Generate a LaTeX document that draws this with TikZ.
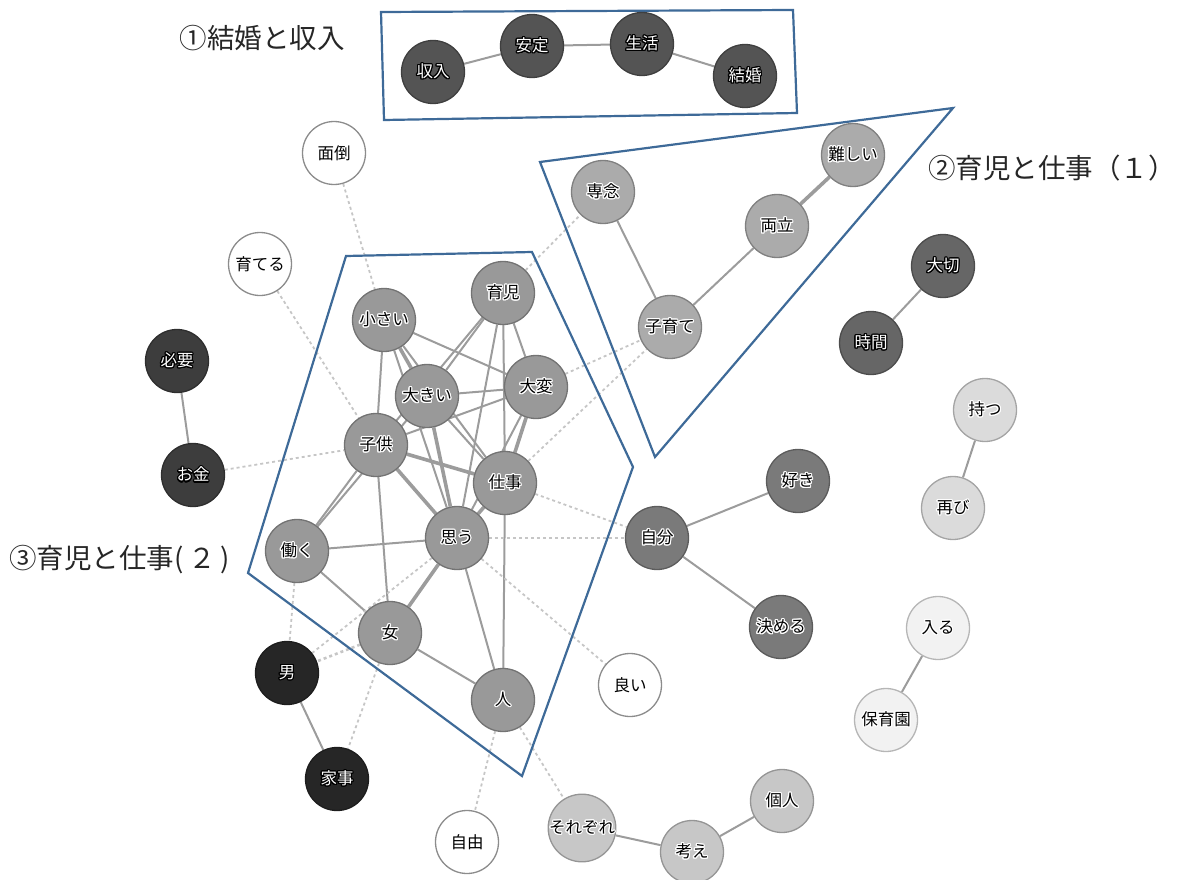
\documentclass[tikz,border=0pt]{standalone}
\usepackage{fontspec}
\usepackage{contour}
\newfontfamily\jp{Noto Sans CJK JP}
\contourlength{1.1pt}
\newcommand{\hl}[1]{\contour{white}{#1}}
\newcommand{\hd}[1]{\textcolor{white}{\contour{black}{#1}}}
\definecolor{frameblue}{HTML}{3E6A98}
\pgfdeclarelayer{bg}
\pgfsetlayers{bg,main}
\begin{document}
\begin{tikzpicture}[x=1pt, y=-1pt,
  nd/.style={circle, draw=#1!75!black, fill=#1, minimum size=63pt, inner sep=0pt, line width=1.3pt, font=\jp\fontsize{16.5}{16.5}\selectfont},
  nd/.default=white,
  wt/.style={nd, draw=black!45},
  ed/.style={draw=gray!78, line width=2pt},
  edb/.style={draw=gray!78, line width=3.6pt},
  dl/.style={draw=gray!45, line width=1.8pt, dash pattern=on 3pt off 3pt},
  frame/.style={draw=frameblue, line width=2.2pt, line join=miter},
  ttl/.style={font=\jp\fontsize{27.5}{27.5}\selectfont, text=black!85}]
\useasboundingbox (0,0) rectangle (1177,880);

% 1. グループ枠とタイトル
\draw[frame] (381,12) -- (793,10) -- (797,113) -- (384,120) -- cycle;
\draw[frame] (540,162) -- (953,108) -- (655,457) -- cycle;
\draw[frame] (346,256) -- (532,252) -- (633,467) -- (522,776) -- (248,573) -- cycle;
\node[ttl] (t1) at (262,38) {①結婚と収入};
\node[ttl] (t2) at (1052,168) {②育児と仕事（１）};
\node[ttl, anchor=west, inner sep=0pt] (t3) at (9,560) {③育児と仕事(\,２\,)};

% 2. ノード
\colorlet{c1}{black!67}
\node[nd=c1] (shunyu) at (433,72) {\hd{収入}};
\node[nd=c1] (antei) at (532,46) {\hd{安定}};
\node[nd=c1] (seikatsu) at (642,44) {\hd{生活}};
\node[nd=c1] (kekkon) at (745,76) {\hd{結婚}};

\colorlet{c2}{black!33}
\node[nd=c2] (sennen) at (603,192) {\hl{専念}};
\node[nd=c2] (muzukashii) at (853,155) {\hl{難しい}};
\node[nd=c2] (ryoritsu) at (777,226) {\hl{両立}};
\node[nd=c2] (kosodate) at (670,327) {\hl{子育て}};

\colorlet{c3}{black!40}
\node[nd=c3] (chiisai) at (384,320) {\hl{小さい}};
\node[nd=c3] (ikuji) at (503,293) {\hl{育児}};
\node[nd=c3] (ookii) at (427,396) {\hl{大きい}};
\node[nd=c3] (taihen) at (536,387) {\hl{大変}};
\node[nd=c3] (kodomo) at (376,445) {\hl{子供}};
\node[nd=c3] (shigoto) at (505,483) {\hl{仕事}};
\node[nd=c3] (hataraku) at (297,551) {\hl{働く}};
\node[nd=c3] (omou) at (457,538) {\hl{思う}};
\node[nd=c3] (onna) at (390,633) {\hl{女}};
\node[nd=c3] (hito) at (503,700) {\hl{人}};

\node[wt] (mendou) at (334,153) {面倒};
\node[wt] (sodateru) at (260,264) {育てる};
\node[wt] (yoi) at (630,685) {良い};
\node[wt] (jiyuu) at (467,842) {自由};

\colorlet{c4}{black!76}
\node[nd=c4] (hitsuyou) at (177,361) {\hd{必要}};
\node[nd=c4] (okane) at (193,475) {\hd{お金}};
\colorlet{c5}{black!85}
\node[nd=c5] (otoko) at (287,673) {\hd{男}};
\node[nd=c5] (kaji) at (337,779) {\hd{家事}};
\colorlet{c6}{black!60}
\node[nd=c6] (taisetsu) at (943,266) {\hd{大切}};
\node[nd=c6] (jikan) at (871,343) {\hd{時間}};
\colorlet{c7}{black!52}
\node[nd=c7] (suki) at (798,481) {\hl{好き}};
\node[nd=c7] (jibun) at (657,538) {\hl{自分}};
\node[nd=c7] (kimeru) at (781,627) {\hl{決める}};
\colorlet{c8}{black!14}
\node[nd=c8] (motsu) at (985,410) {\hl{持つ}};
\node[nd=c8] (futatabi) at (953,508) {\hl{再び}};
\colorlet{c9}{black!5}
\node[nd=c9] (hairu) at (938,628) {\hl{入る}};
\node[nd=c9] (hoikuen) at (886,720) {\hl{保育園}};
\colorlet{c10}{black!22}
\node[nd=c10] (sorezore) at (582,828) {\hl{それぞれ}};
\node[nd=c10] (kangae) at (692,852) {\hl{考え}};
\node[nd=c10] (kojin) at (782,801) {\hl{個人}};

% 3. 共起の線（背面）
\begin{pgfonlayer}{bg}
\draw[ed] (shunyu) -- (antei) -- (seikatsu) -- (kekkon);
\draw[ed] (sennen) -- (kosodate) -- (ryoritsu);
\draw[edb] (ryoritsu) -- (muzukashii);
\draw[ed] (hitsuyou) -- (okane);
\draw[ed] (taisetsu) -- (jikan);
\draw[ed] (motsu) -- (futatabi);
\draw[ed] (jibun) -- (suki);
\draw[ed] (jibun) -- (kimeru);
\draw[ed] (hairu) -- (hoikuen);
\draw[ed] (sorezore) -- (kangae) -- (kojin);
\draw[ed] (otoko) -- (kaji);

\foreach \a/\b in {chiisai/kodomo, chiisai/taihen, chiisai/shigoto, chiisai/omou,
  ikuji/ookii, ikuji/kodomo, ikuji/taihen, ikuji/shigoto, ikuji/omou,
  ookii/taihen, kodomo/taihen, ookii/shigoto, taihen/omou,
  kodomo/onna, kodomo/hataraku, hataraku/ookii, hataraku/omou, hataraku/onna,
  onna/hito, omou/hito, shigoto/hito}
  \draw[ed] (\a) -- (\b);
\foreach \a/\b in {chiisai/ookii, kodomo/shigoto, kodomo/omou, taihen/shigoto,
  shigoto/omou, omou/onna, ookii/omou}
  \draw[edb] (\a) -- (\b);

\foreach \a/\b in {mendou/chiisai, sodateru/kodomo, okane/kodomo, ikuji/sennen,
  taihen/kosodate, shigoto/kosodate, shigoto/jibun, omou/jibun, omou/yoi,
  hataraku/otoko, omou/otoko, onna/kaji, hito/jiyuu, hito/sorezore}
  \draw[dl] (\a) -- (\b);
\draw[dl, line width=2.6pt] (onna) -- (otoko);
\end{pgfonlayer}
\end{tikzpicture}
\end{document}
